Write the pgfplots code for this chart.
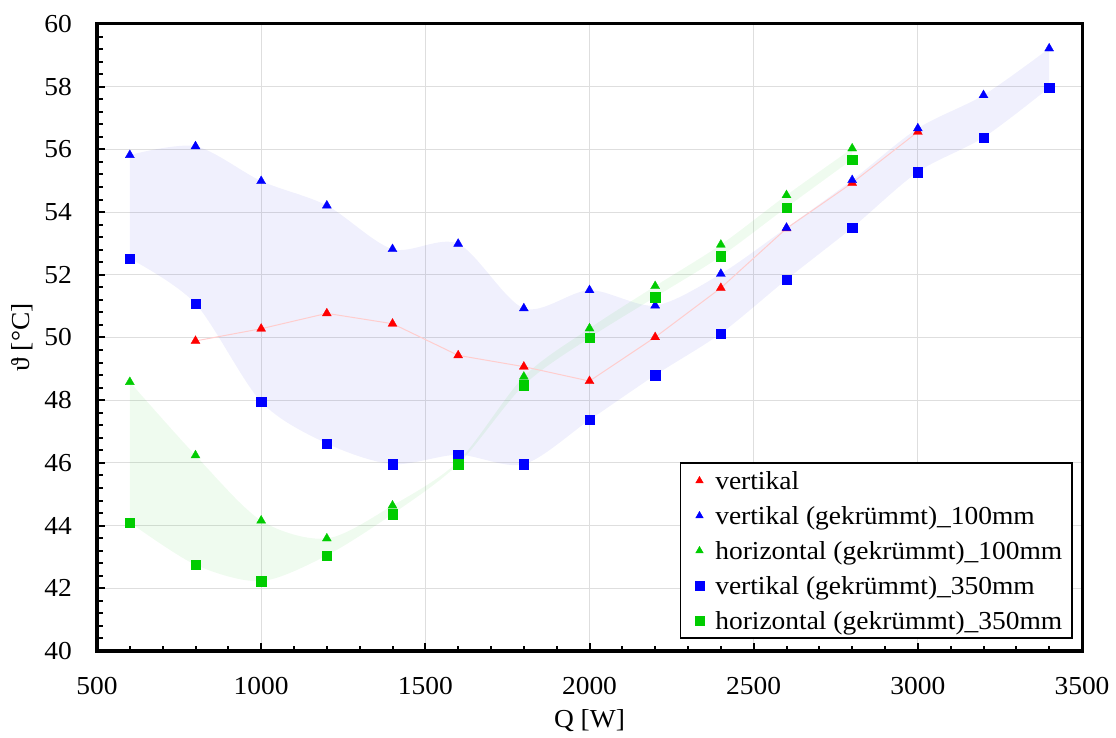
\documentclass[border=0pt]{standalone}
\usepackage{fontspec}
\setmainfont{Liberation Serif}[FakeStretch=1.06]
\usepackage{pgfplots}
\usepgfplotslibrary{fillbetween}
\usepackage{pgfplotstable}
\pgfplotsset{compat=1.18}

\definecolor{cred}{RGB}{255,0,0}
\definecolor{cblue}{RGB}{0,0,255}
\definecolor{cgreen}{RGB}{0,204,0}
\definecolor{redline}{RGB}{255,205,205}
\definecolor{gridgray}{RGB}{222,222,222}
\definecolor{bandblue}{RGB}{40,40,220}
\definecolor{bandgreen}{RGB}{30,200,30}

\pgfplotstableread{
x y
800 49.89
1000 50.28
1200 50.77
1400 50.44
1600 49.43
1800 49.07
2000 48.61
2200 50.01
2400 51.58
2600 53.48
2800 54.93
3000 56.56
}\redtri

\pgfplotstableread{
x y
600 55.82
800 56.10
1000 54.99
1200 54.21
1400 52.82
1600 52.99
1800 50.93
2000 51.51
2200 51.02
2400 52.03
2600 53.50
2800 55.02
3000 56.67
3200 57.73
3400 59.22
}\bluetri

\pgfplotstableread{
x y
600 48.58
800 46.24
1000 44.16
1200 43.59
1400 44.64
1600 46.05
1800 48.75
2000 50.29
2200 51.64
2400 52.96
2600 54.54
2800 56.03
}\greentri

\pgfplotstableread{
x y
600 52.52
800 51.08
1000 47.95
1200 46.62
1400 45.96
1600 46.26
1800 45.96
2000 47.37
2200 48.80
2400 50.13
2600 51.85
2800 53.50
3000 55.28
3200 56.38
3400 57.97
}\bluesq

\pgfplotstableread{
x y
600 44.10
800 42.75
1000 42.23
1200 43.05
1400 44.37
1600 45.96
1800 48.48
2000 49.99
2200 51.29
2400 52.59
2600 54.15
2800 55.68
}\greensq

\begin{document}
\begin{tikzpicture}
\begin{axis}[
  scale only axis,
  width=985bp, height=627bp,
  xmin=500, xmax=3500, ymin=40, ymax=60,
  xtick={500,1000,...,3500},
  ytick={40,42,...,60},
  minor x tick num=4,
  minor y tick num=4,
  tick align=inside,
  xtick pos=bottom, ytick pos=left,
  major tick length=8bp,
  minor tick length=5.5bp,
  every tick/.style={black, line width=2bp},
  grid=none,
  extra x ticks={1000,1500,...,3000},
  extra y ticks={42,44,...,58},
  extra x tick labels={},
  extra y tick labels={},
  extra tick style={grid=major, major tick length=0pt},
  major grid style={line width=1.1bp, color=gridgray},
  axis line style={line width=3bp, black},
  /pgf/number format/assume math mode=true,
  /pgf/number format/1000 sep={},
  tick label style={font=\fontsize{26}{31}\selectfont},
  xticklabel style={anchor=base, inner sep=0pt, yshift=-43bp},
  yticklabel style={anchor=east, inner sep=0pt, xshift=-25bp},
  xlabel={Q [W]},
  ylabel={ϑ [°C]},
  label style={font=\fontsize{26}{31}\selectfont},
  xlabel style={at={(axis description cs:0.5,0)}, anchor=base, yshift=-76bp},
  ylabel style={at={(axis description cs:0,0.5)}, anchor=center, yshift=75bp},
  legend cell align=left,
  legend style={
    at={(0.9909,0.0191)}, anchor=south east,
    draw=black, line width=1.6bp, fill=white,
    inner xsep=10bp, inner ysep=0bp,
    row sep=0bp,
    font=\fontsize{26}{31}\selectfont,
    nodes={inner sep=0pt, text height=26bp, text depth=9bp},
  },
  legend image code/.code={%
    \path (-8bp,0bp) (15bp,0bp);
    \draw[#1, mark size=4.4bp, line width=0.3bp] plot coordinates {(0bp,0bp)};
  },
]
% bands
\addplot[name path=vA, draw=none, smooth, forget plot] table[x=x,y=y] {\bluetri};
\addplot[name path=vB, draw=none, smooth, forget plot] table[x=x,y=y] {\bluesq};
\addplot[fill=bandblue, fill opacity=0.07, draw=none, forget plot] fill between[of=vA and vB];
\addplot[name path=hA, draw=none, smooth, forget plot] table[x=x,y=y] {\greentri};
\addplot[name path=hB, draw=none, smooth, forget plot] table[x=x,y=y] {\greensq};
\addplot[fill=bandgreen, fill opacity=0.07, draw=none, forget plot] fill between[of=hA and hB];
% red line
\addplot[redline, line width=1bp, no marks, forget plot] table[x=x,y=y] {\redtri};
% markers
\addplot[only marks, mark=triangle*, mark size=5.2bp, color=cred, mark options={line width=0.3bp}] table[x=x,y=y] {\redtri};
\addlegendentry{vertikal}
\addplot[only marks, mark=triangle*, mark size=5.2bp, color=cblue, mark options={line width=0.3bp}] table[x=x,y=y] {\bluetri};
\addlegendentry{vertikal (gekrümmt)\_100mm}
\addplot[only marks, mark=triangle*, mark size=5.2bp, color=cgreen, mark options={line width=0.3bp}] table[x=x,y=y] {\greentri};
\addlegendentry{horizontal (gekrümmt)\_100mm}
\addplot[only marks, mark=square*, mark size=4.7bp, color=cblue, mark options={line width=0.3bp}] table[x=x,y=y] {\bluesq};
\addlegendentry{vertikal (gekrümmt)\_350mm}
\addplot[only marks, mark=square*, mark size=4.7bp, color=cgreen, mark options={line width=0.3bp}] table[x=x,y=y] {\greensq};
\addlegendentry{horizontal (gekrümmt)\_350mm}
\end{axis}
\pgfresetboundingbox
\useasboundingbox (-97bp,-87bp) rectangle (1019bp,651bp);
\end{tikzpicture}
\end{document}
